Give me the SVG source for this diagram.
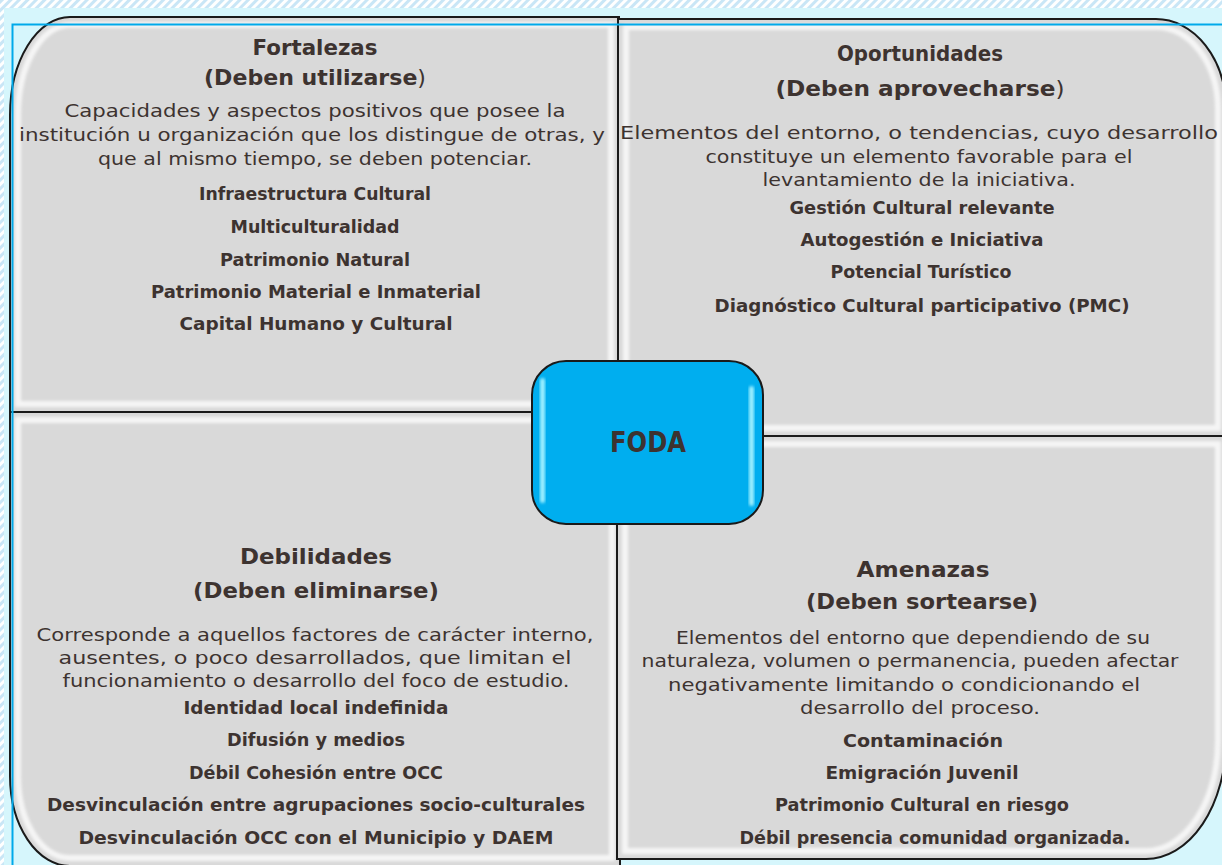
<svg xmlns="http://www.w3.org/2000/svg" width="1222" height="865" viewBox="0 0 1222 865">
  <defs>
    <pattern id="hatch" width="6" height="6" patternUnits="userSpaceOnUse" patternTransform="rotate(45)">
      <rect width="6" height="6" fill="#ffffff"/>
      <rect width="3" height="6" fill="#c9e6f6"/>
    </pattern>
    <filter id="soft" x="-5%" y="-5%" width="110%" height="110%">
      <feGaussianBlur stdDeviation="1.4"/>
    </filter>
    <style>
      .quad { fill: #d9d9d9; stroke: #1a1a1a; stroke-width: 2; }
      .hl { fill: none; stroke: #ffffff; stroke-width: 6; opacity: 0.75; filter: url(#soft); }
      .t { font-family: "DejaVu Sans", "Liberation Sans", sans-serif; fill: #3d3330; text-anchor: middle; }
      .h { font-size: 22px; font-weight: bold; }
      .b { font-size: 18px; font-weight: normal; }
      .i { font-size: 17px; font-weight: bold; }
      .n { font-weight: normal; }
    </style>
  </defs>

  <!-- background -->
  <rect x="0" y="0" width="1222" height="865" fill="url(#hatch)"/>
  <rect x="4" y="8" width="1218" height="857" fill="#d6f6fc"/>

  <g id="node-fortalezas">
    <path class="quad" d="M10,412 V115 A60,98 0 0 1 70,17 H619 V412 Z"/>
    <path class="hl" d="M18,404 V115 A52,90 0 0 1 70,25 H611 V404 Z"/>
  </g>
  <g id="node-oportunidades">
    <path class="quad" d="M618,436 V19 H1156 A70,90 0 0 1 1226,109 V436 Z"/>
    <path class="hl" d="M626,428 V27 H1156 A62,82 0 0 1 1218,109 V428 Z"/>
  </g>
  <g id="node-debilidades">
    <path class="quad" d="M10,412 H620 V866 H70 A60,90 0 0 1 10,776 Z"/>
    <path class="hl" d="M18,420 H612 V858 H70 A52,82 0 0 1 18,776 Z"/>
  </g>
  <g id="node-amenazas">
    <path class="quad" d="M617,436 H1226 V740 A80,119 0 0 1 1146,859 H617 Z"/>
    <path class="hl" d="M625,444 H1218 V740 A72,111 0 0 1 1146,851 H625 Z"/>
  </g>

  <!-- frame -->
  <rect x="12.5" y="24.5" width="1215" height="850" fill="none" stroke="#00a9ea" stroke-width="2"/>

  <g id="text-fortalezas" class="t">
    <text class="h" x="315" y="55" textLength="125" lengthAdjust="spacingAndGlyphs">Fortalezas</text>
    <text class="h" x="315" y="85" textLength="222" lengthAdjust="spacingAndGlyphs">(Deben utilizarse<tspan class="n">)</tspan></text>
    <text class="b" x="315" y="117" textLength="501" lengthAdjust="spacingAndGlyphs">Capacidades y aspectos positivos que posee la</text>
    <text class="b" x="312" y="141" textLength="586" lengthAdjust="spacingAndGlyphs">institución u organización que los distingue de otras, y</text>
    <text class="b" x="315" y="165" textLength="434" lengthAdjust="spacingAndGlyphs">que al mismo tiempo, se deben potenciar.</text>
    <text class="i" x="315" y="200" textLength="232" lengthAdjust="spacingAndGlyphs">Infraestructura Cultural</text>
    <text class="i" x="315" y="233" textLength="169" lengthAdjust="spacingAndGlyphs">Multiculturalidad</text>
    <text class="i" x="315" y="266" textLength="190" lengthAdjust="spacingAndGlyphs">Patrimonio Natural</text>
    <text class="i" x="316" y="298" textLength="330" lengthAdjust="spacingAndGlyphs">Patrimonio Material e Inmaterial</text>
    <text class="i" x="316" y="330" textLength="273" lengthAdjust="spacingAndGlyphs">Capital Humano y Cultural</text>
  </g>

  <g id="text-oportunidades" class="t">
    <text class="h" x="920" y="61" textLength="166" lengthAdjust="spacingAndGlyphs">Oportunidades</text>
    <text class="h" x="920" y="96" textLength="289" lengthAdjust="spacingAndGlyphs">(Deben aprovecharse<tspan class="n">)</tspan></text>
    <text class="b" x="919" y="139" textLength="598" lengthAdjust="spacingAndGlyphs">Elementos del entorno, o tendencias, cuyo desarrollo</text>
    <text class="b" x="919" y="163" textLength="427" lengthAdjust="spacingAndGlyphs">constituye un elemento favorable para el</text>
    <text class="b" x="919" y="186" textLength="313" lengthAdjust="spacingAndGlyphs">levantamiento de la iniciativa.</text>
    <text class="i" x="922" y="214" textLength="265" lengthAdjust="spacingAndGlyphs">Gestión Cultural relevante</text>
    <text class="i" x="922" y="246" textLength="243" lengthAdjust="spacingAndGlyphs">Autogestión e Iniciativa</text>
    <text class="i" x="921" y="278" textLength="181" lengthAdjust="spacingAndGlyphs">Potencial Turístico</text>
    <text class="i" x="922" y="312" textLength="415" lengthAdjust="spacingAndGlyphs">Diagnóstico Cultural participativo (PMC)</text>
  </g>

  <g id="text-debilidades" class="t">
    <text class="h" x="316" y="564" textLength="152" lengthAdjust="spacingAndGlyphs">Debilidades</text>
    <text class="h" x="316" y="598" textLength="246" lengthAdjust="spacingAndGlyphs">(Deben eliminarse)</text>
    <text class="b" x="315" y="641" textLength="557" lengthAdjust="spacingAndGlyphs">Corresponde a aquellos factores de carácter interno,</text>
    <text class="b" x="315" y="664" textLength="513" lengthAdjust="spacingAndGlyphs">ausentes, o poco desarrollados, que limitan el</text>
    <text class="b" x="316" y="687" textLength="507" lengthAdjust="spacingAndGlyphs">funcionamiento o desarrollo del foco de estudio.</text>
    <text class="i" x="316" y="714" textLength="265" lengthAdjust="spacingAndGlyphs">Identidad local indefinida</text>
    <text class="i" x="316" y="746" textLength="178" lengthAdjust="spacingAndGlyphs">Difusión y medios</text>
    <text class="i" x="316" y="779" textLength="254" lengthAdjust="spacingAndGlyphs">Débil Cohesión entre OCC</text>
    <text class="i" x="316" y="811" textLength="538" lengthAdjust="spacingAndGlyphs">Desvinculación entre agrupaciones socio-culturales</text>
    <text class="i" x="316" y="844" textLength="475" lengthAdjust="spacingAndGlyphs">Desvinculación OCC con el Municipio y DAEM</text>
  </g>

  <g id="text-amenazas" class="t">
    <text class="h" x="923" y="577" textLength="133" lengthAdjust="spacingAndGlyphs">Amenazas</text>
    <text class="h" x="922" y="609" textLength="232" lengthAdjust="spacingAndGlyphs">(Deben sortearse)</text>
    <text class="b" x="913" y="644" textLength="474" lengthAdjust="spacingAndGlyphs">Elementos del entorno que dependiendo de su</text>
    <text class="b" x="910" y="667" textLength="537" lengthAdjust="spacingAndGlyphs">naturaleza, volumen o permanencia, pueden afectar</text>
    <text class="b" x="904" y="691" textLength="472" lengthAdjust="spacingAndGlyphs">negativamente limitando o condicionando el</text>
    <text class="b" x="920" y="714" textLength="240" lengthAdjust="spacingAndGlyphs">desarrollo del proceso.</text>
    <text class="i" x="923" y="747" textLength="160" lengthAdjust="spacingAndGlyphs">Contaminación</text>
    <text class="i" x="922" y="779" textLength="193" lengthAdjust="spacingAndGlyphs">Emigración Juvenil</text>
    <text class="i" x="922" y="811" textLength="294" lengthAdjust="spacingAndGlyphs">Patrimonio Cultural en riesgo</text>
    <text class="i" x="935" y="844" textLength="391" lengthAdjust="spacingAndGlyphs">Débil presencia comunidad organizada.</text>
  </g>

  <g id="node-foda">
    <rect x="532" y="361" width="231" height="163" rx="34" ry="34" fill="#00aeef" stroke="#1a1a1a" stroke-width="2"/>
    <rect x="540" y="378" width="5" height="125" rx="2.5" fill="#9ff0ff" filter="url(#soft)"/>
    <rect x="749" y="386" width="5" height="120" rx="2.5" fill="#9ff0ff" filter="url(#soft)"/>
    <text class="t" x="648" y="452" font-size="28" font-weight="bold" textLength="76" lengthAdjust="spacingAndGlyphs">FODA</text>
  </g>

  <g id="connectors"/>
</svg>
